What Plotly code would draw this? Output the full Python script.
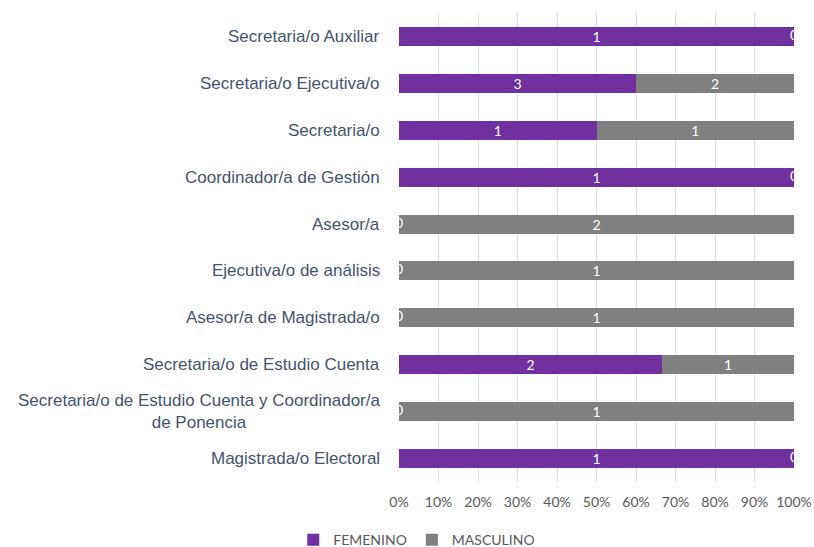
import plotly.graph_objects as go

categories = [
    "Secretaria/o Auxiliar",
    "Secretaria/o Ejecutiva/o",
    "Secretaria/o",
    "Coordinador/a de Gestión",
    "Asesor/a",
    "Ejecutiva/o de análisis",
    "Asesor/a de Magistrada/o",
    "Secretaria/o de Estudio Cuenta",
    "Secretaria/o de Estudio Cuenta y Coordinador/a<br>de Ponencia",
    "Magistrada/o Electoral",
]
femenino = [1, 3, 1, 1, 0, 0, 0, 2, 0, 1]
masculino = [0, 2, 1, 0, 2, 1, 1, 1, 1, 0]
x_ticks = [0, 10, 20, 30, 40, 50, 60, 70, 80, 90, 100]

PURPLE = "#7030A0"
GRAY = "#808080"
TXT = "#44546A"

fig = go.Figure()
series = [("FEMENINO", femenino, PURPLE), ("MASCULINO", masculino, GRAY)]
totals = [f + m for f, m in zip(femenino, masculino)]
cum = [0.0] * len(categories)
for name, vals, col in series:
    pct = [100.0 * v / t if t else 0 for v, t in zip(vals, totals)]
    fig.add_trace(go.Bar(
        name=name, y=categories, x=pct, orientation="h",
        marker=dict(color=col, line=dict(width=0)),
        text=[str(v) if v else "" for v in vals],
        textposition="inside", insidetextanchor="middle", textangle=0,
        constraintext="none",
        textfont=dict(color="white", size=14, family="Lato"),
        hoverinfo="skip",
    ))
    # zero-value labels, as drawn (clipped) at the segment position
    zx, zy = [], []
    for i, v in enumerate(vals):
        if v == 0:
            zx.append(cum[i])
            zy.append(categories[i])
    fig.add_trace(go.Scatter(
        x=zx, y=zy, mode="text", text=["0"] * len(zx),
        textfont=dict(color="white", size=14, family="Lato"),
        cliponaxis=True, showlegend=False, hoverinfo="skip",
    ))
    cum = [c + p for c, p in zip(cum, pct)]

for c in categories:
    fig.add_annotation(
        x=-0.042, xref="paper", y=c, yref="y", text=c, showarrow=False,
        xanchor="right", align="center",
        font=dict(family="Liberation Sans", size=17, color=TXT),
    )

fig.update_layout(
    width=814, height=547,
    barmode="stack", bargap=0.595,
    plot_bgcolor="white", paper_bgcolor="white",
    margin=dict(l=399, r=20, t=13, b=65, autoexpand=False),
    xaxis=dict(range=[0, 100], tickvals=x_ticks,
               ticktext=[f"{t}%" for t in x_ticks],
               showgrid=True, gridcolor="#D9DEE8", gridwidth=1,
               zeroline=False, showline=False, ticks="",
               ticklabelstandoff=10,
               tickfont=dict(family="Lato", size=14, color="#595959")),
    yaxis=dict(autorange="reversed", showticklabels=False, showgrid=False,
               zeroline=False, showline=False, ticks=""),
    legend=dict(orientation="h", xref="paper", yref="paper",
                x=0.045, y=-0.124, xanchor="center", yanchor="middle",
                font=dict(family="Lato", size=14, color="#595959"),
                traceorder="normal", itemwidth=30),
    showlegend=True,
)
fig.write_html("out.html", config={"displayModeBar": False},
               post_script="document.body.style.margin='0';document.body.style.overflow='hidden';")
